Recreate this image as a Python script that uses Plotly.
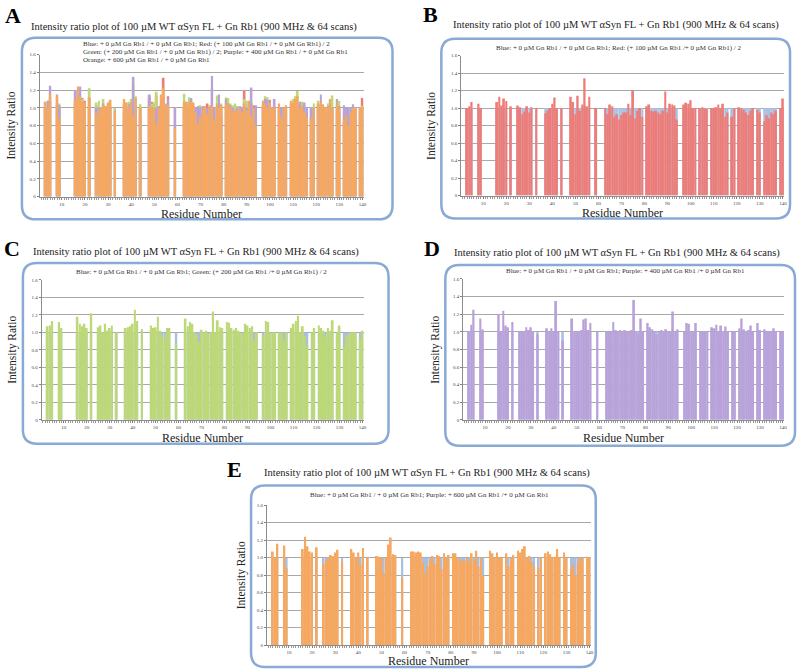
import plotly.graph_objects as go

# residues with an assigned peak (gaps = unassigned / prolines)
residues = [3, 4, 5, 8, 9, 16, 17, 18, 19, 20, 22,
            25, 26, 27, 28, 29, 30, 31, 33,
            37, 38, 39, 40, 41, 42, 44,
            48, 49, 50, 51, 52, 53, 54, 55, 56, 59,
            63, 64, 65, 66, 67, 68, 69, 70, 71, 72, 73, 74, 75, 76, 77, 78, 79,
            81, 82, 83, 84, 85, 86, 87, 88, 89, 90, 91, 92, 93, 94,
            97, 98, 99, 100, 101, 102, 104, 105, 106, 107,
            109, 110, 111, 112, 113, 114, 115, 116, 118, 119,
            121, 122, 123, 124, 125, 126, 127, 129, 130,
            132, 133, 134, 135, 136, 137, 139, 140]

# + 0 uM / + 0 uM reference ratio
blue = [1.0] * len(residues)

red = [1.00, 1.02, 1.07, 1.05, 1.00, 1.07, 1.13, 1.03, 1.11, 1.08, 1.02,
       1.03, 1.01, 0.93, 0.96, 1.02, 0.95, 1.01, 1.00,
       0.94, 0.97, 1.00, 1.05, 1.12, 1.00, 1.00,
       1.13, 1.07, 0.93, 1.14, 0.97, 1.04, 1.34, 1.02, 1.13, 1.00,
       1.00, 0.93, 1.04, 1.02, 0.90, 0.93, 0.87, 0.92, 0.95, 0.95, 1.05, 0.92, 1.20, 0.88, 0.97, 1.00, 0.90,
       1.02, 1.04, 0.97, 0.96, 0.97, 0.95, 0.93, 0.97, 1.19, 0.95, 1.05, 1.04, 1.03, 0.87,
       1.04, 1.06, 1.05, 1.09, 1.00, 1.00, 1.00, 1.01, 1.00, 0.99,
       1.00, 1.00, 1.01, 1.04, 1.00, 1.05, 0.90, 0.95, 0.90, 1.00,
       1.01, 1.00, 0.98, 0.95, 0.92, 0.97, 1.00, 0.98, 0.95,
       0.85, 0.92, 0.88, 0.95, 0.93, 0.97, 1.00, 1.11]

green = [1.07, 1.08, 1.13, 1.12, 1.05, 1.18, 1.10, 1.07, 1.10, 1.05, 1.22,
         1.06, 1.08, 1.00, 1.10, 1.02, 1.05, 1.08, 1.00,
         1.05, 1.06, 1.07, 1.10, 1.26, 1.13, 1.04,
         1.08, 1.05, 1.06, 1.18, 1.02, 0.97, 0.93, 1.05, 1.05, 0.87,
         1.16, 1.07, 1.12, 1.10, 1.00, 0.97, 0.89, 1.03, 1.00, 1.02, 0.99, 1.00, 1.24, 1.00, 1.14, 1.06, 1.05,
         1.12, 1.11, 1.05, 1.03, 1.05, 1.02, 1.00, 0.99, 1.10, 1.08, 1.05, 1.07, 0.90, 1.00,
         0.97, 1.13, 1.12, 1.00, 1.00, 1.00, 1.00, 1.00, 0.92, 1.00,
         1.05, 1.10, 1.13, 1.19, 1.00, 1.07, 0.96, 0.85, 1.00, 1.05,
         1.08, 1.05, 1.02, 0.95, 1.05, 1.02, 1.14, 1.00, 1.08,
         0.83, 0.95, 0.98, 1.00, 1.00, 1.00, 0.93, 1.02]

purple = [1.01, 1.08, 1.25, 1.15, 1.03, 1.20, 1.00, 1.24, 1.07, 1.05, 1.11,
          1.00, 1.00, 1.00, 1.05, 1.02, 1.05, 1.00, 0.97,
          1.04, 1.00, 1.04, 1.00, 1.35, 1.00, 0.90,
          1.15, 1.00, 1.00, 1.00, 1.02, 1.14, 1.15, 1.02, 1.10, 1.00,
          1.00, 1.00, 1.00, 1.11, 1.02, 1.00, 1.02, 1.00, 1.02, 1.00, 1.00, 1.02, 1.36, 1.00, 0.98, 1.15, 1.00,
          1.10, 1.05, 1.03, 1.00, 0.97, 1.00, 1.02, 1.00, 1.03, 1.00, 1.01, 1.23, 1.00, 1.03,
          1.00, 1.10, 1.09, 1.00, 1.00, 1.10, 1.00, 1.00, 1.00, 1.00,
          1.05, 1.04, 1.08, 1.00, 1.07, 1.00, 1.06, 1.00, 1.00, 1.00,
          1.04, 1.15, 1.03, 1.00, 1.02, 1.07, 1.00, 1.10, 1.02,
          1.03, 1.00, 1.00, 1.00, 1.04, 1.00, 1.01, 1.00]

orange = [1.07, 1.00, 1.16, 1.14, 0.88, 1.10, 1.24, 1.13, 1.07, 1.06, 1.12,
          0.93, 0.97, 1.00, 1.03, 1.02, 1.06, 1.09, 0.96,
          1.10, 1.06, 1.00, 1.06, 0.92, 1.11, 1.00,
          1.02, 1.01, 1.00, 0.82, 1.00, 1.15, 1.23, 1.04, 1.03, 0.77,
          1.07, 1.07, 1.06, 1.07, 1.06, 0.95, 0.82, 0.90, 0.98, 1.02, 0.93, 1.03, 1.02, 0.87, 1.05, 1.00, 1.03,
          1.05, 1.05, 1.00, 0.97, 0.96, 0.97, 1.00, 0.95, 1.05, 0.97, 1.08, 0.90, 1.00, 0.80,
          1.08, 1.05, 1.00, 1.06, 1.00, 1.00, 1.05, 0.90, 1.00, 1.03,
          1.08, 1.06, 1.10, 1.13, 1.00, 1.02, 0.95, 0.90, 0.88, 1.00,
          1.05, 1.07, 1.04, 1.00, 1.01, 1.10, 1.00, 1.06, 1.00,
          0.87, 0.92, 0.80, 0.95, 1.00, 1.00, 1.01, 1.00]

x_ticks = [10, 20, 30, 40, 50, 60, 70, 80, 90, 100, 110, 120, 130, 140]
y_ticks = [0, 0.2, 0.4, 0.6, 0.8, 1.0, 1.2, 1.4, 1.6]
y_ticktext = ["0", "0.2", "0.4", "0.6", "0.8", "1.0", "1.2", "1.4", "1.6"]

COLORS = {"blue": "#a9bfe0", "red": "#ee7b76", "green": "#bdd876",
          "purple": "#b9a1d9", "orange": "#f6a860"}
SERIES = {"blue": blue, "red": red, "green": green, "purple": purple, "orange": orange}

TITLE = "Intensity ratio plot of 100 µM WT αSyn FL + Gn Rb1 (900 MHz &amp; 64 scans)"
SERIF = "Liberation Serif"
W, H = 800, 672


def px(x, y):
    return x / W, 1 - y / H


# pixel geometry of each panel
panels = [
    dict(letter="A", letter_xy=(13, 14), title_xy=(195, 25), box=(22, 36, 394, 219),
         plot=(40, 53, 365, 196), ylab_x=12, xlab_y=214,
         series=["blue", "red", "green", "purple", "orange"],
         legend=[("Blue: + 0 µM Gn Rb1 / + 0 µM Gn Rb1; Red: (+ 100 µM Gn Rb1 / + 0 µM Gn Rb1) / 2", 81, 42),
                 ("Green: (+ 200 µM Gn Rb1 / + 0 µM Gn Rb1) / 2; Purple: + 400 µM Gn Rb1 / + 0 µM Gn Rb1", 81, 50),
                 ("Orange: + 600 µM Gn Rb1 / + 0 µM Gn Rb1", 81, 58)],
         legend_center=False),
    dict(letter="B", letter_xy=(432, 13), title_xy=(618, 23), box=(443, 37, 793, 218),
         plot=(463, 54, 787, 195), ylab_x=433, xlab_y=213,
         series=["blue", "red"],
         legend=[("Blue: + 0 µM Gn Rb1 / + 0 µM Gn Rb1; Red: (+ 100 µM Gn Rb1 /+ 0 µM Gn Rb1) / 2", 621, 46)],
         legend_center=True),
    dict(letter="C", letter_xy=(12, 248), title_xy=(197, 252), box=(23, 263, 390, 445),
         plot=(42, 280, 365, 421), ylab_x=13, xlab_y=439,
         series=["blue", "green"],
         legend=[("Blue: + 0 µM Gn Rb1 / + 0 µM Gn Rb1; Green: (+ 200 µM Gn Rb1 /+ 0 µM Gn Rb1) / 2", 202, 272)],
         legend_center=True),
    dict(letter="D", letter_xy=(434, 248), title_xy=(619, 253), box=(447, 265, 798, 447),
         plot=(465, 279, 787, 421), ylab_x=437, xlab_y=439,
         series=["blue", "purple"],
         legend=[("Blue: + 0 µM Gn Rb1 / + 0 µM Gn Rb1; Purple: + 400 µM Gn Rb1 /+ 0 µM Gn Rb1", 628, 271)],
         legend_center=True),
    dict(letter="E", letter_xy=(235, 471), title_xy=(429, 475), box=(252, 487, 598, 670),
         plot=(268, 507, 593, 648), ylab_x=242, xlab_y=664,
         series=["blue", "orange"],
         legend=[("Blue: + 0 µM Gn Rb1 / + 0 µM Gn Rb1; Purple: + 600 µM Gn Rb1 /+ 0 µM Gn Rb1", 431, 497)],
         legend_center=True),
]


def rounded_box(x0, y0, x1, y1, r=14):
    ax, ay = px(x0, y0)
    bx, by = px(x1, y1)
    rx, ry = r / W, r / H
    # ay > by in paper coords (top > bottom)
    return (f"M {ax + rx},{ay} L {bx - rx},{ay} Q {bx},{ay} {bx},{ay - ry} "
            f"L {bx},{by + ry} Q {bx},{by} {bx - rx},{by} "
            f"L {ax + rx},{by} Q {ax},{by} {ax},{by + ry} "
            f"L {ax},{ay - ry} Q {ax},{ay} {ax + rx},{ay} Z")


def note(text, x, y, size, xanchor="center", **kw):
    ax_, ay_ = px(x, y)
    return dict(text=text, x=ax_, y=ay_, xref="paper", yref="paper", showarrow=False,
                xanchor=xanchor, yanchor="middle",
                font=dict(family=SERIF, size=size, color=kw.pop("color", "#222")), **kw)


fig = go.Figure()
shapes, annotations = [], []
layout_axes = {}

for i, p in enumerate(panels, start=1):
    sfx = "" if i == 1 else str(i)
    xa, ya = "x" + sfx, "y" + sfx
    for name in p["series"]:
        fig.add_trace(go.Bar(x=residues, y=SERIES[name], xaxis=xa, yaxis=ya,
                             marker=dict(color=COLORS[name], line=dict(width=0)),
                             width=0.8, showlegend=False, name=name))

    x0, y0, x1, y1 = p["plot"]
    dx0, dy1 = px(x0, y0)
    dx1, dy0 = px(x1, y1)
    layout_axes["xaxis" + sfx] = dict(
        domain=[dx0, dx1], anchor=ya, range=[0.5, 140.5],
        tickvals=x_ticks, ticks="outside", ticklen=2, tickcolor="#7f7f7f",
        tickfont=dict(family=SERIF, size=5, color="#444"),
        showline=True, linecolor="#8c8c8c", linewidth=1, showgrid=False, zeroline=False,
        minor=dict(ticks="outside", dtick=1, ticklen=2, tickcolor="#9a9a9a", showgrid=False),
    )
    layout_axes["yaxis" + sfx] = dict(
        domain=[dy0, dy1], anchor=xa, range=[0, 1.6],
        tickvals=y_ticks, ticktext=y_ticktext, ticks="outside", ticklen=2,
        tickcolor="#7f7f7f", tickfont=dict(family=SERIF, size=5, color="#444"),
        showline=True, linecolor="#8c8c8c", linewidth=1,
        showgrid=True, gridcolor="#a8a8a8", gridwidth=1, zeroline=False,
    )

    shapes.append(dict(type="path", path=rounded_box(*p["box"]), xref="paper", yref="paper",
                       line=dict(color="#88aad4", width=2.5), layer="below"))

    annotations.append(note(f"<b>{p['letter']}</b>", *p["letter_xy"], 22, color="black"))
    annotations.append(note(TITLE, *p["title_xy"], 10.5))
    for txt, gx, gy in p["legend"]:
        annotations.append(note(txt, gx, gy, 7, xanchor="center" if p["legend_center"] else "left",
                                color="#333"))
    annotations.append(note("Intensity Ratio", p["ylab_x"], (y0 + y1) / 2, 11.5, textangle=-90))
    annotations.append(note("Residue Number", (x0 + x1) / 2, p["xlab_y"], 12))

fig.update_layout(
    width=W, height=H, margin=dict(l=0, r=0, t=0, b=0),
    paper_bgcolor="white", plot_bgcolor="rgba(0,0,0,0)",
    barmode="overlay", showlegend=False,
    shapes=shapes, annotations=annotations, **layout_axes,
)

# drop the default 8px body margin so the figure fills the window exactly
fig.write_html("out.html", config={"displayModeBar": False},
               post_script="document.body.style.margin='0';")
